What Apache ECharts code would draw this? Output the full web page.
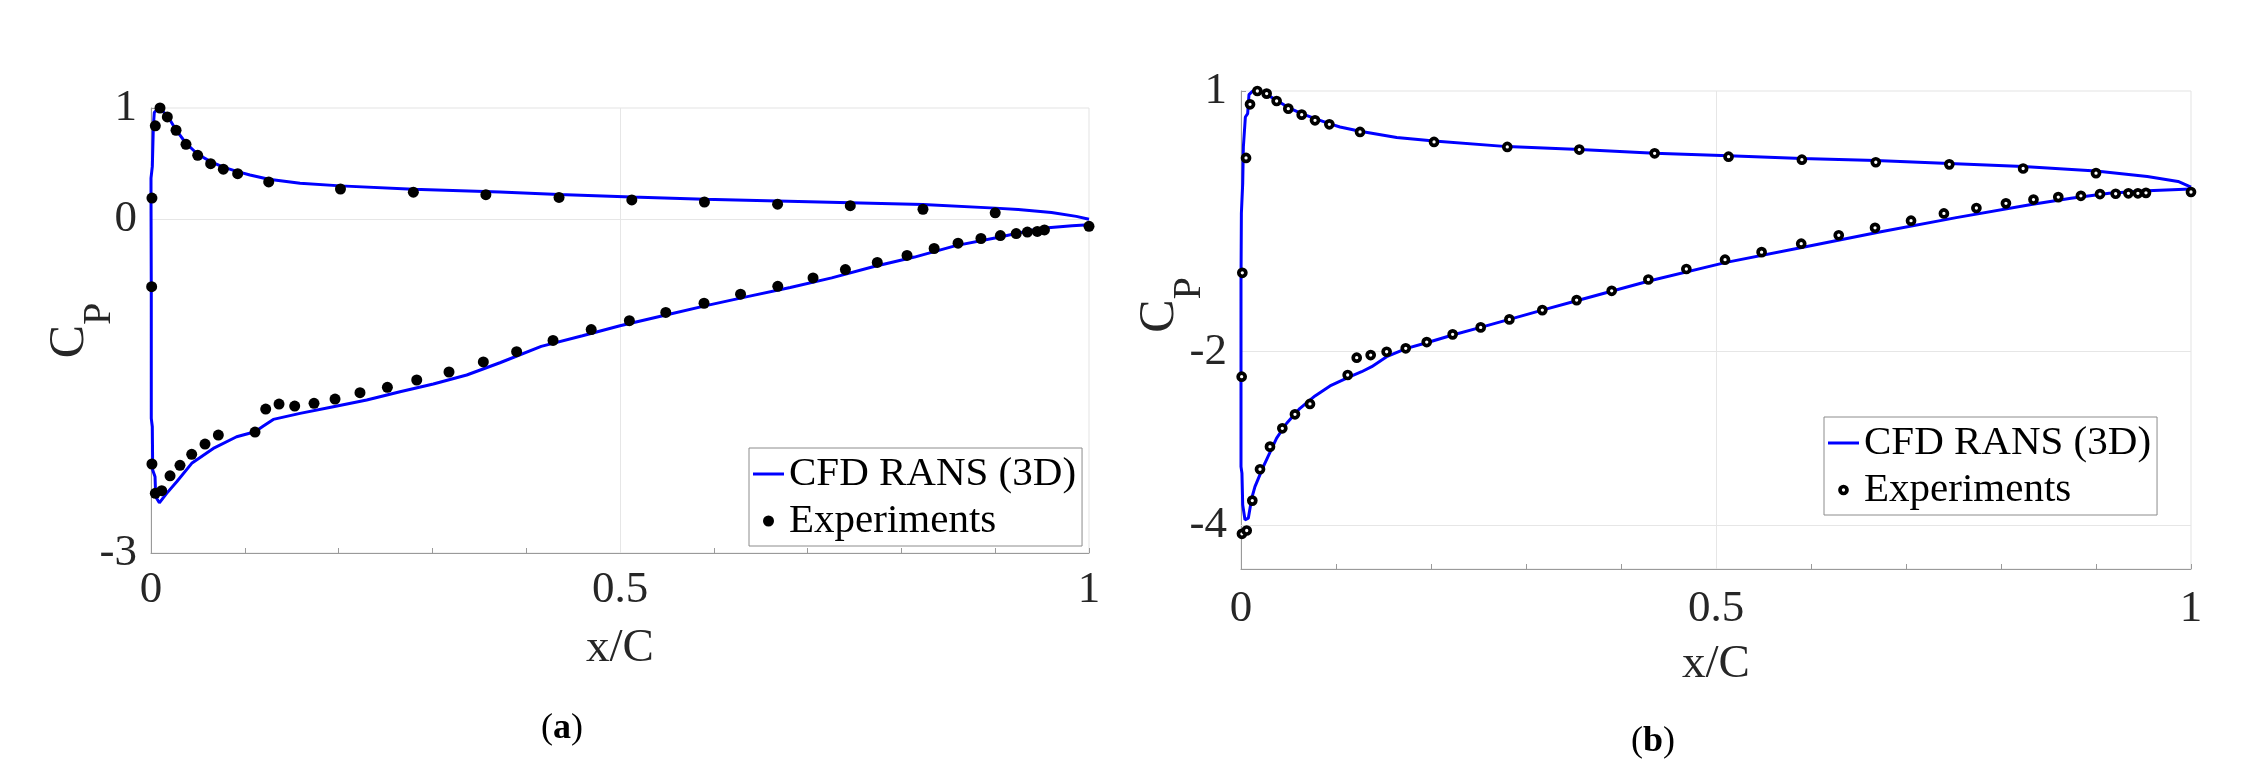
<!DOCTYPE html>
<html>
<head>
<meta charset="utf-8">
<title>Cp distributions</title>
<script src="https://cdn.jsdelivr.net/npm/echarts@6/dist/echarts.min.js"></script>
<style>
  html, body { margin: 0; padding: 0; background: #fff; }
  #chart { width: 2250px; height: 770px; }
</style>
</head>
<body>
<div id="chart"></div>
<script>
// tick positions / labels
const xMajorTicks = [0, 0.5, 1];
const xMinorTicks = [0, 0.1, 0.2, 0.3, 0.4, 0.5, 0.6, 0.7, 0.8, 0.9, 1];
const yTicksA = [-3, 0, 1];
const yTicksB = [-4, -2, 1];
const gridYA = [0];        // horizontal grid lines, panel (a)
const gridYB = [-2, -4];   // horizontal grid lines, panel (b)
const gridX = [0.5];

// panel (a): CFD line, [x/C, Cp], TE upper -> LE -> lower -> TE
const cfdA = [
  [1.0, 0.0], [0.9865, 0.026], [0.96, 0.061], [0.9245, 0.087], [0.90, 0.10], [0.823, 0.132],
  [0.7455, 0.148], [0.668, 0.164], [0.59, 0.18], [0.5126, 0.20], [0.435, 0.222], [0.372, 0.245],
  [0.2797, 0.27], [0.202, 0.30], [0.1589, 0.324], [0.1255, 0.36], [0.1055, 0.398], [0.0924, 0.428],
  [0.0771, 0.468], [0.0636, 0.518], [0.0498, 0.584], [0.0373, 0.683], [0.0267, 0.803], [0.0185, 0.917],
  [0.0114, 0.983], [0.0067, 0.989], [0.0035, 0.959], [0.0025, 0.833], [0.0014, 0.473], [0.0, 0.369],
  [0.0, 0.234], [0.0003, -0.666], [0.0003, -1.79], [0.0014, -1.865], [0.0018, -2.255], [0.0043, -2.315],
  [0.005, -2.495], [0.0089, -2.549], [0.0167, -2.464], [0.0274, -2.36], [0.0434, -2.194], [0.0664, -2.06],
  [0.0913, -1.955], [0.1109, -1.91], [0.1198, -1.859], [0.1304, -1.799], [0.1589, -1.745], [0.1944, -1.685],
  [0.23, -1.625], [0.2655, -1.55], [0.301, -1.481], [0.3366, -1.40], [0.372, -1.29], [0.416, -1.143],
  [0.46, -1.047], [0.5, -0.957], [0.549, -0.861], [0.593, -0.774], [0.637, -0.693], [0.6815, -0.613],
  [0.7257, -0.527], [0.7698, -0.427], [0.814, -0.34], [0.858, -0.237], [0.9025, -0.164], [0.9467, -0.084],
  [0.982, -0.058], [1.0, -0.05]
];

// panel (a): experiments
const expA = [
  [0.0096, 1.0], [0.0174, 0.92], [0.0046, 0.84], [0.0267, 0.80], [0.0373, 0.674], [0.0498, 0.575],
  [0.0636, 0.50], [0.0771, 0.45], [0.0924, 0.41], [0.1255, 0.335], [0.202, 0.272], [0.2797, 0.243],
  [0.357, 0.221], [0.435, 0.196], [0.5126, 0.174], [0.590, 0.155], [0.668, 0.135], [0.7455, 0.122],
  [0.823, 0.09], [0.900, 0.058], [1.0, -0.064],
  [0.001, 0.19], [0.0007, -0.606], [0.001, -2.20], [0.0046, -2.464], [0.0114, -2.44],
  [0.0203, -2.306], [0.0309, -2.212], [0.0434, -2.113], [0.0576, -2.021], [0.0718, -1.94], [0.1109, -1.913],
  [0.1223, -1.706], [0.1365, -1.661], [0.1532, -1.679], [0.1738, -1.655], [0.1962, -1.616], [0.2228, -1.559],
  [0.252, -1.511], [0.2833, -1.445], [0.3177, -1.373], [0.3543, -1.283], [0.3898, -1.19], [0.4286, -1.089],
  [0.4693, -0.992], [0.51, -0.912], [0.5488, -0.838], [0.5896, -0.755], [0.6285, -0.674], [0.6682, -0.603],
  [0.7058, -0.527], [0.7403, -0.452], [0.7743, -0.388], [0.806, -0.325], [0.8349, -0.263], [0.8604, -0.215],
  [0.8848, -0.173], [0.9055, -0.147], [0.9224, -0.129], [0.9343, -0.115], [0.9449, -0.109], [0.9525, -0.096]
];

// panel (b): CFD line
const cfdB = [
  [1.0, -0.105], [0.9864, -0.041], [0.954, 0.016], [0.9, 0.079], [0.8233, 0.132], [0.7456, 0.167],
  [0.6682, 0.2], [0.5904, 0.224], [0.5132, 0.254], [0.4354, 0.283], [0.3568, 0.326], [0.2803, 0.36],
  [0.2032, 0.425], [0.1639, 0.464], [0.1253, 0.537], [0.1042, 0.586], [0.093, 0.625], [0.0779, 0.683],
  [0.0639, 0.74], [0.0498, 0.809], [0.0375, 0.893], [0.0253, 0.97], [0.0172, 1.008], [0.0123, 1.0],
  [0.0084, 0.958], [0.007, 0.74], [0.0046, 0.701], [0.0025, 0.356], [0.0018, -0.064], [0.0004, -0.409],
  [0.0, -1.214], [0.0, -3.322], [0.001, -3.398], [0.0018, -3.762], [0.0042, -3.934], [0.0077, -3.915],
  [0.0113, -3.685], [0.0147, -3.552], [0.0235, -3.322], [0.0375, -2.995], [0.0481, -2.823], [0.0621, -2.651],
  [0.0779, -2.509], [0.0937, -2.394], [0.113, -2.294], [0.127, -2.23], [0.1376, -2.172], [0.1533, -2.057],
  [0.1744, -1.961], [0.1955, -1.897], [0.2228, -1.808], [0.2523, -1.72], [0.2825, -1.628], [0.3172, -1.521],
  [0.3533, -1.414], [0.4305, -1.183], [0.5095, -0.975], [0.5917, -0.797], [0.6722, -0.622], [0.7529, -0.457],
  [0.8334, -0.302], [0.8737, -0.235], [0.9139, -0.177], [0.9542, -0.148], [1.0, -0.129]
];

// panel (b): experiments
const expB = [
  [0.0172, 1.0], [0.027, 0.97], [0.0095, 0.847], [0.0375, 0.885], [0.0498, 0.797], [0.0639, 0.728],
  [0.0779, 0.663], [0.093, 0.617], [0.1253, 0.529], [0.2032, 0.414], [0.2803, 0.356], [0.3561, 0.326],
  [0.4354, 0.283], [0.5132, 0.244], [0.5904, 0.21], [0.6682, 0.18], [0.7456, 0.156], [0.8233, 0.108],
  [0.9, 0.055], [1.0, -0.162],
  [0.0053, 0.23], [0.0014, -1.092], [0.0007, -2.287], [0.001, -4.095], [0.006, -4.057],
  [0.0119, -3.713], [0.02, -3.352], [0.0305, -3.092], [0.0435, -2.881], [0.0568, -2.72], [0.0726, -2.601],
  [0.1123, -2.268], [0.1218, -2.069], [0.1365, -2.038], [0.1533, -2.0], [0.1734, -1.961], [0.1955, -1.889],
  [0.2228, -1.8], [0.2523, -1.72], [0.2825, -1.628], [0.3172, -1.521], [0.3533, -1.406], [0.3902, -1.299],
  [0.4288, -1.169], [0.4688, -1.048], [0.5095, -0.941], [0.548, -0.854], [0.5897, -0.757], [0.6292, -0.66],
  [0.6674, -0.574], [0.7053, -0.492], [0.7399, -0.409], [0.7741, -0.346], [0.8052, -0.293], [0.8342, -0.249],
  [0.8603, -0.221], [0.8841, -0.206], [0.9042, -0.186], [0.9207, -0.182], [0.9341, -0.177], [0.9441, -0.177],
  [0.9526, -0.172]
];

const FONT = 'Liberation Serif, DejaVu Serif, serif';
const AXIS_GRAY = '#9a9a9a';
const GRID_GRAY = '#e6e6e6';
const TEXT = '#262626';

function xAxisFor(gi, labelMargin) {
  return {
    type: 'value', gridIndex: gi, min: 0, max: 1,
    axisLine: { show: true, onZero: false, lineStyle: { color: AXIS_GRAY, width: 1 } },
    axisTick: { show: true, inside: true, length: 5, customValues: xMinorTicks, lineStyle: { color: AXIS_GRAY } },
    axisLabel: { customValues: xMajorTicks, margin: labelMargin, fontFamily: FONT, fontSize: 45, color: TEXT },
    splitLine: { show: false },
    name: 'x/C', nameLocation: 'middle', nameGap: 72, nameMoveOverlap: false,
    nameTextStyle: { fontFamily: FONT, fontSize: 47, color: TEXT }
  };
}

function yAxisFor(gi, min, max, ticks, namePad) {
  return {
    type: 'value', gridIndex: gi, min: min, max: max,
    axisLine: { show: true, onZero: false, lineStyle: { color: AXIS_GRAY, width: 1 } },
    axisTick: { show: true, inside: true, length: 5, customValues: ticks, lineStyle: { color: AXIS_GRAY } },
    axisLabel: { customValues: ticks, margin: 14, fontFamily: FONT, fontSize: 45, color: TEXT },
    splitLine: { show: false },
    name: '{c|C}{p|P}', nameLocation: 'middle', nameRotate: 90, nameGap: 56, nameMoveOverlap: false,
    nameTextStyle: {
      color: TEXT, fontFamily: FONT, padding: namePad,
      rich: {
        c: { fontFamily: FONT, fontSize: 50, lineHeight: 50, verticalAlign: 'top', color: TEXT },
        p: { fontFamily: FONT, fontSize: 40, lineHeight: 40, verticalAlign: 'top', padding: [34, 0, 0, 0], color: TEXT }
      }
    }
  };
}

function gridLines(ys) {
  return {
    silent: true, symbol: 'none', z: 1, animation: false,
    label: { show: false },
    emphasis: { disabled: true },
    lineStyle: { color: GRID_GRAY, width: 1, type: 'solid' },
    data: gridX.map(v => ({ xAxis: v })).concat(ys.map(v => ({ yAxis: v })))
  };
}

const legendBase = {
  orient: 'vertical', itemGap: 5, itemWidth: 31,
  padding: [5, 6, 4, 4],
  borderColor: '#8c8c8c', borderWidth: 1, backgroundColor: '#fff',
  textStyle: { fontFamily: FONT, fontSize: 41, lineHeight: 42, color: '#000' },
  selectedMode: false
};

const dotStyle = { color: '#000', opacity: 1 };
const ringStyle = { color: '#fff', borderColor: '#000', borderWidth: 3.7, opacity: 1 };
const lineIcon = { name: 'CFD RANS (3D)', icon: 'path://M0 0H31V3H0Z', itemStyle: { color: '#0000ff', borderWidth: 0 } };

const chart = echarts.init(document.getElementById('chart'), null, { renderer: 'canvas' });

chart.setOption({
  animation: false,
  backgroundColor: '#fff',
  textStyle: { fontFamily: FONT },
  grid: [
    { left: 151, top: 108, width: 938, height: 445, show: true, borderColor: '#e3e3e3', borderWidth: 1,
      containLabel: false, outerBoundsMode: 'none' },
    { left: 1241, top: 91, width: 950, height: 478, show: true, borderColor: '#e3e3e3', borderWidth: 1,
      containLabel: false, outerBoundsMode: 'none' }
  ],
  xAxis: [xAxisFor(0, 15), xAxisFor(1, 18)],
  yAxis: [yAxisFor(0, -3, 1, yTicksA, [0, 0, 0, 0]), yAxisFor(1, -4.5, 1, yTicksB, [0, 0, 0, 50])],
  legend: [
    Object.assign({}, legendBase, {
      left: 749, top: 448, itemHeight: 11,
      data: [lineIcon, { name: 'Experiments', icon: 'circle', itemStyle: dotStyle }]
    }),
    Object.assign({}, legendBase, {
      left: 1824, top: 417, itemHeight: 7,
      data: [lineIcon, { name: 'Experiments', icon: 'circle', itemStyle: ringStyle }]
    })
  ],
  series: [
    {
      name: 'CFD RANS (3D)', type: 'line', xAxisIndex: 0, yAxisIndex: 0, data: cfdA,
      symbol: 'none', smooth: false, z: 3,
      lineStyle: { color: '#0000ff', width: 3 }, itemStyle: { color: '#0000ff' },
      markLine: gridLines(gridYA)
    },
    {
      name: 'Experiments', type: 'scatter', xAxisIndex: 0, yAxisIndex: 0, data: expA,
      symbol: 'circle', symbolSize: 11, z: 4,
      itemStyle: dotStyle
    },
    {
      name: 'CFD RANS (3D)', type: 'line', xAxisIndex: 1, yAxisIndex: 1, data: cfdB,
      symbol: 'none', smooth: false, z: 3,
      lineStyle: { color: '#0000ff', width: 3 }, itemStyle: { color: '#0000ff' },
      markLine: gridLines(gridYB)
    },
    {
      name: 'Experiments', type: 'scatter', xAxisIndex: 1, yAxisIndex: 1, data: expB,
      symbol: 'circle', symbolSize: 7, z: 4,
      itemStyle: ringStyle
    }
  ],
  graphic: [
    { type: 'text', x: 562, y: 729, silent: true,
      style: { text: '({b|a})', fontFamily: FONT, fontSize: 36, fill: '#000', align: 'center', verticalAlign: 'middle',
        rich: { b: { fontFamily: FONT, fontSize: 36, fontWeight: 'bold', fill: '#000' } } } },
    { type: 'text', x: 1653, y: 742, silent: true,
      style: { text: '({b|b})', fontFamily: FONT, fontSize: 36, fill: '#000', align: 'center', verticalAlign: 'middle',
        rich: { b: { fontFamily: FONT, fontSize: 36, fontWeight: 'bold', fill: '#000' } } } }
  ]
});
</script>
</body>
</html>
